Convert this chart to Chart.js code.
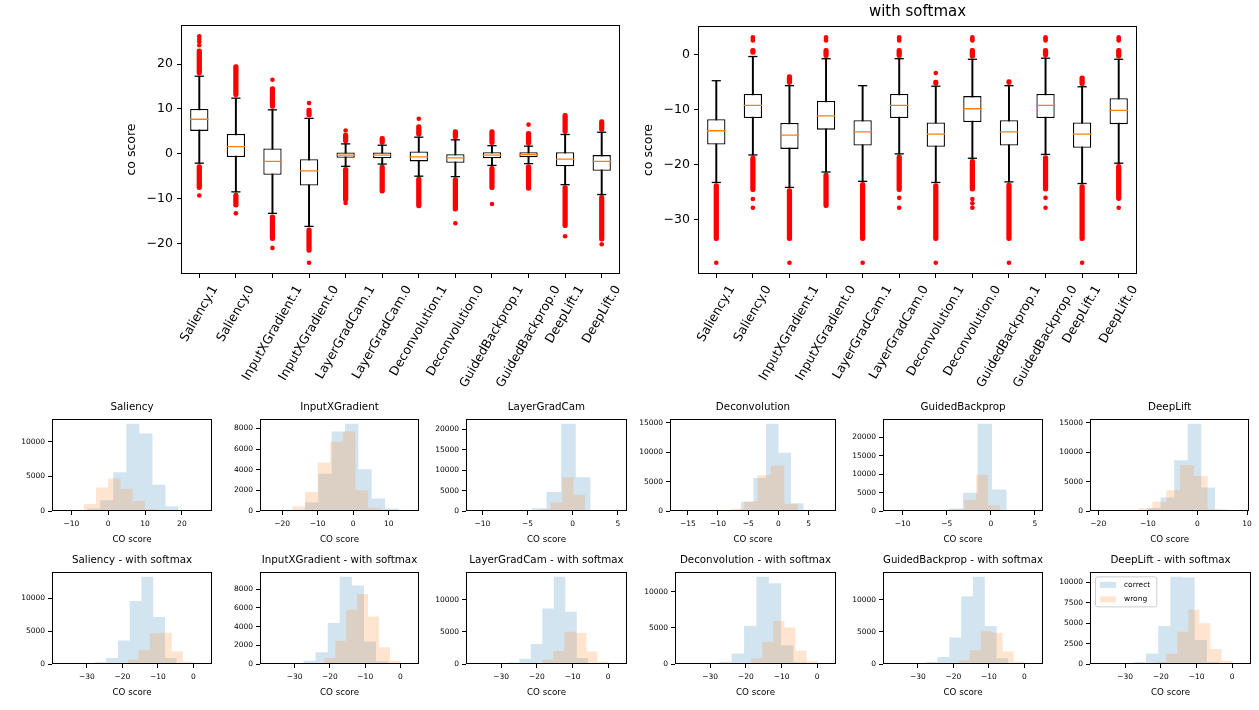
<!DOCTYPE html>
<html>
<head>
<meta charset="utf-8">
<script src="https://cdn.jsdelivr.net/npm/chart.js@4.4.0/dist/chart.umd.min.js"></script>
<style>
  body { margin: 0; background: #fff; width: 1259px; height: 710px; position: relative; overflow: hidden; }
  canvas { position: absolute; }
</style>
</head>
<body>
<script>
// ---- box plot data (CO score per method / label) ----
const boxLabels = ['Saliency.1', 'Saliency.0', 'InputXGradient.1', 'InputXGradient.0', 'LayerGradCam.1', 'LayerGradCam.0',
  'Deconvolution.1', 'Deconvolution.0', 'GuidedBackprop.1', 'GuidedBackprop.0', 'DeepLift.1', 'DeepLift.0'];

const boxQ1 = [5.1, -0.75, -4.7, -7.1, -0.9, -1.0, -1.7, -2.0, -1.0, -0.8, -2.8, -3.8];
const boxMed = [7.7, 1.6, -1.7, -3.8, -0.3, -0.3, -0.7, -0.9, -0.3, -0.2, -1.2, -1.7];
const boxQ3 = [10.0, 4.4, 1.2, -1.2, 0.3, 0.3, 0.5, 0.0, 0.35, 0.35, 0.35, -0.3];
const boxWhiskLo = [-2.1, -8.5, -13.3, -16.2, -2.8, -2.3, -5.0, -5.1, -2.6, -2.2, -6.9, -9.1];
const boxWhiskHi = [17.3, 12.4, 9.8, 7.9, 2.2, 1.9, 3.7, 3.1, 1.8, 1.7, 4.3, 4.8];
// dense runs of outliers, [from, to]
const boxOutHi = [[17.6, 23.4], [12.7, 19.9], [10.1, 15.0], [8.2, 10.2], [2.4, 4.6], [2.1, 3.9],
  [3.9, 6.5], [3.3, 5.4], [2.0, 5.4], [1.9, 5.0], [4.5, 9.0], [5.0, 7.6]];
const boxOutLo = [[-8.0, -2.4], [-11.9, -8.8], [-19.4, -13.6], [-22.0, -16.5], [-10.7, -3.0], [-8.8, -2.5],
  [-12.1, -5.2], [-12.8, -5.3], [-8.0, -2.8], [-8.2, -2.4], [-16.5, -7.1], [-19.5, -9.3]];
// single outliers, [box index, value]
const boxOutDots = [[0, 24.2], [0, 25.0], [0, 25.6], [0, 26.2], [0, -9.3], [1, -13.3], [2, 16.5], [2, -21.0],
  [3, 11.3], [3, -24.3], [4, 5.2], [4, -11.0], [6, 7.8], [7, -15.5], [8, -11.2], [9, 6.5], [10, -18.4], [11, -20.2]];
const boxYTicks = [-20, -10, 0, 10, 20];

// with softmax
const smQ1 = [-16.3, -11.5, -17.1, -13.6, -16.5, -11.5, -16.7, -12.2, -16.5, -11.5, -16.9, -12.6];
const smMed = [-13.8, -9.2, -14.6, -11.1, -14.0, -9.2, -14.4, -9.8, -14.0, -9.2, -14.4, -10.1];
const smQ3 = [-11.7, -7.1, -12.4, -8.4, -11.9, -7.1, -12.3, -7.5, -11.9, -7.1, -12.3, -7.9];
const smWhiskLo = [-23.2, -18.2, -24.1, -21.3, -23.0, -18.0, -23.2, -18.8, -23.1, -18.1, -23.4, -19.7];
const smWhiskHi = [-4.7, -0.3, -5.6, -0.7, -5.6, -0.7, -5.7, -0.8, -5.6, -0.6, -5.8, -0.8];
const smOutHi = [null, [0.0, 1.2], [-5.4, -3.6], [-0.5, 1.2], null, [-0.5, 1.2],
  [-5.5, -4.6], [-0.6, 1.2], [-5.4, -4.5], [-0.4, 1.2], [-5.6, -3.8], [-0.6, 1.2]];
const smOutLo = [[-33.8, -23.4], [-24.9, -18.4], [-33.8, -24.3], [-27.8, -21.5], [-33.8, -23.2], [-24.9, -18.2],
  [-33.8, -23.4], [-24.8, -19.0], [-33.8, -23.3], [-24.8, -18.3], [-33.8, -23.6], [-26.5, -19.9]];
const smOutDots = [[0, -37.8], [2, -37.8], [4, -37.8], [6, -37.8], [6, -3.3], [8, -37.8], [10, -37.8],
  [1, 2.6], [1, 2.9], [1, 3.2], [1, -26.2], [1, -27.8],
  [3, 2.6], [3, 2.9], [3, 3.2],
  [5, 2.6], [5, 2.9], [5, 3.2], [5, -26.0], [5, -27.8],
  [7, 2.6], [7, 2.9], [7, 3.2], [7, -26.2], [7, -27.0], [7, -27.8],
  [9, 2.6], [9, 2.9], [9, 3.2], [9, -26.0], [9, -27.8],
  [11, 2.6], [11, 2.9], [11, 3.2], [11, -27.8]];
const smYTicks = [-30, -20, -10, 0];

// ---- histograms: bin edges and counts, panels 0-5 plain, 6-11 with softmax ----
const methods = ['Saliency', 'InputXGradient', 'LayerGradCam', 'Deconvolution', 'GuidedBackprop', 'DeepLift'];
const seriesNames = ['correct', 'wrong'];
const smWrongEdges = [-27.8, -24.7, -21.6, -18.5, -15.4, -12.3, -9.2, -6.1, -3.0, 0.1, 3.2];

const correctEdges = [
  [-9.3, -5.75, -2.2, 1.35, 4.9, 8.45, 12.0, 15.55, 19.1, 22.65, 26.2],
  [-21.1, -17.34, -13.58, -9.82, -6.06, -2.3, 1.46, 5.22, 8.98, 12.74, 16.5],
  [-11.0, -9.38, -7.76, -6.14, -4.52, -2.9, -1.28, 0.34, 1.96, 3.58, 5.2],
  [-12.4, -10.33, -8.26, -6.19, -4.12, -2.05, 0.02, 2.09, 4.16, 6.23, 8.3],
  [-11.4, -9.75, -8.1, -6.45, -4.8, -3.15, -1.5, 0.15, 1.8, 3.45, 5.1],
  [-18.4, -15.66, -12.92, -10.18, -7.44, -4.7, -1.96, 0.78, 3.52, 6.26, 9.0],
  [-37.8, -34.49, -31.18, -27.87, -24.56, -21.25, -17.94, -14.63, -11.32, -8.01, -4.7],
  [-37.8, -34.37, -30.94, -27.51, -24.08, -20.65, -17.22, -13.79, -10.36, -6.93, -3.5],
  [-37.8, -34.58, -31.36, -28.14, -24.92, -21.7, -18.48, -15.26, -12.04, -8.82, -5.6],
  [-37.8, -34.34, -30.88, -27.42, -23.96, -20.5, -17.04, -13.58, -10.12, -6.66, -3.2],
  [-37.8, -34.47, -31.14, -27.81, -24.48, -21.15, -17.82, -14.49, -11.16, -7.83, -4.5],
  [-37.8, -34.39, -30.98, -27.57, -24.16, -20.75, -17.34, -13.93, -10.52, -7.11, -3.7]
];
const correctCounts = [
  [30, 350, 1550, 5600, 12600, 11200, 3800, 700, 100, 20],
  [30, 120, 850, 3600, 7700, 8450, 4050, 1200, 230, 20],
  [5, 10, 30, 100, 650, 4650, 21400, 8250, 250, 20],
  [5, 20, 100, 1550, 5600, 14850, 9900, 1300, 60, 10],
  [5, 10, 30, 100, 700, 4950, 23650, 5850, 250, 20],
  [5, 20, 100, 500, 2300, 8650, 14850, 4000, 250, 20],
  [5, 20, 100, 250, 900, 3600, 9600, 13300, 7150, 900],
  [5, 30, 100, 350, 1250, 4400, 9350, 8400, 2400, 300],
  [5, 30, 120, 250, 800, 3100, 8600, 13550, 8100, 950],
  [5, 30, 100, 300, 1450, 5300, 12100, 11200, 2600, 250],
  [5, 30, 100, 300, 1100, 4100, 10500, 13550, 5900, 900],
  [5, 20, 80, 250, 1300, 4650, 10700, 10600, 2950, 250]
];
const wrongEdges = [
  [-13.3, -9.98, -6.66, -3.34, -0.02, 3.3, 6.62, 9.94, 13.26, 16.58, 19.9],
  [-24.2, -20.65, -17.1, -13.55, -10.0, -6.45, -2.9, 0.65, 4.2, 7.75, 11.3],
  [-8.8, -7.53, -6.26, -4.99, -3.72, -2.45, -1.18, 0.09, 1.36, 2.63, 3.9],
  [-16.7, -14.49, -12.28, -10.07, -7.86, -5.65, -3.44, -1.23, 0.98, 3.19, 5.4],
  [-8.4, -7.05, -5.7, -4.35, -3.0, -1.65, -0.3, 1.05, 2.4, 3.75, 5.1],
  [-20.2, -17.42, -14.64, -11.86, -9.08, -6.3, -3.52, -0.74, 2.04, 4.82, 7.6],
  smWrongEdges, smWrongEdges, smWrongEdges, smWrongEdges, smWrongEdges, smWrongEdges
];
const wrongCounts = [
  [10, 60, 1000, 3400, 4700, 3200, 1450, 300, 40, 10],
  [20, 80, 450, 1850, 4700, 6700, 7700, 2000, 320, 40],
  [5, 20, 60, 150, 400, 2100, 8250, 4000, 200, 20],
  [5, 10, 50, 150, 400, 1650, 6100, 7700, 1200, 50],
  [5, 20, 100, 450, 2950, 9800, 1550, 100, 20, 5],
  [10, 60, 170, 450, 1580, 3550, 7800, 5950, 300, 20],
  [5, 30, 120, 650, 2100, 4650, 4750, 1900, 350, 20],
  [20, 100, 650, 2500, 5800, 7500, 5100, 1800, 350, 20],
  [5, 30, 150, 650, 2000, 5000, 4850, 1950, 350, 20],
  [5, 40, 150, 750, 3050, 5950, 5050, 1850, 400, 20],
  [5, 30, 120, 550, 2150, 5050, 4850, 1950, 350, 20],
  [10, 60, 250, 1250, 3950, 6650, 5000, 1850, 400, 20]
];
const histXTicks = [
  [-10, 0, 10, 20], [-20, -10, 0, 10], [-10, -5, 0, 5], [-15, -10, -5, 0, 5], [-10, -5, 0, 5], [-20, -10, 0, 10],
  [-30, -20, -10, 0], [-30, -20, -10, 0], [-30, -20, -10, 0], [-30, -20, -10, 0], [-30, -20, -10, 0], [-30, -20, -10, 0]
];
const histYTicks = [
  [0, 5000, 10000], [0, 2000, 4000, 6000, 8000], [0, 5000, 10000, 15000, 20000],
  [0, 5000, 10000, 15000], [0, 5000, 10000, 15000, 20000], [0, 5000, 10000, 15000],
  [0, 5000, 10000], [0, 2000, 4000, 6000, 8000], [0, 5000, 10000],
  [0, 5000, 10000], [0, 5000, 10000], [0, 2500, 5000, 7500, 10000]
];

// ---- layout ----
// axes boxes [left, top, right, bottom] in page pixels
const histAxes = [
  [52, 419, 212, 511], [260, 419, 419, 511], [466, 419, 627, 511],
  [670, 419, 836, 511], [883, 419, 1043, 511], [1090, 419, 1251, 511],
  [52, 572, 212, 664], [260, 572, 419, 664], [466, 572, 627, 664],
  [675, 572, 836, 664], [883, 572, 1043, 664], [1090, 572, 1251, 664]
];
const FONT = "'DejaVu Sans', sans-serif";
const BLUE = 'rgba(31,119,180,0.2)';
const ORANGE = 'rgba(255,127,14,0.2)';

Chart.defaults.font.family = FONT;
Chart.defaults.color = '#000';
Chart.defaults.animation = false;
Chart.defaults.events = [];
Chart.defaults.plugins.legend.display = false;
Chart.defaults.plugins.tooltip.enabled = false;

const minus = v => v < 0 ? '\u2212' + Math.abs(v) : String(v);

function makeCanvas(x, y, w, h) {
  const c = document.createElement('canvas');
  c.width = w; c.height = h;
  c.style.left = x + 'px'; c.style.top = y + 'px';
  c.style.width = w + 'px'; c.style.height = h + 'px';
  document.body.appendChild(c);
  return c;
}

// full box around the plot area, like matplotlib spines
const framePlugin = {
  id: 'frame',
  afterDraw(chart) {
    const a = chart.chartArea, ctx = chart.ctx;
    ctx.save();
    ctx.strokeStyle = '#000';
    ctx.lineWidth = 1;
    const l = Math.round(a.left), t = Math.round(a.top);
    ctx.strokeRect(l + 0.5, t + 0.5, Math.round(a.right) - l - 1, Math.round(a.bottom) - t - 1);
    ctx.restore();
  }
};

// x labels rotated 60 degrees, centred under the tick
const rotLabels = {
  id: 'rotLabels',
  afterDraw(chart) {
    const ctx = chart.ctx, xs = chart.scales.x, base = chart.chartArea.bottom;
    const size = 12.5, ang = Math.PI / 3;
    ctx.save();
    ctx.font = size + 'px ' + FONT;
    ctx.fillStyle = '#000';
    ctx.textAlign = 'center';
    ctx.textBaseline = 'middle';
    chart.data.labels.forEach((lab, i) => {
      const L = ctx.measureText(lab).width;
      const bh = L * Math.sin(ang) + size * 1.17 * Math.cos(ang);
      ctx.save();
      ctx.translate(xs.getPixelForTick(i), base + 9 + bh / 2);
      ctx.rotate(-ang);
      ctx.fillText(lab, 0, 0);
      ctx.restore();
    });
    ctx.restore();
  }
};

const legendBox = {
  id: 'legendBox',
  afterDraw(chart) {
    const ctx = chart.ctx, a = chart.chartArea;
    const fs = 7.5;
    ctx.save();
    ctx.font = fs + 'px ' + FONT;
    const tw = Math.max(...seriesNames.map(s => ctx.measureText(s).width));
    const x = a.left + 5, y = a.top + 4, w = 5 + 16 + 8 + tw + 6, h = 30;
    ctx.beginPath();
    ctx.roundRect(x + 0.5, y + 0.5, w, h, 2);
    ctx.fillStyle = 'rgba(255,255,255,0.8)';
    ctx.fill();
    ctx.strokeStyle = '#cccccc';
    ctx.lineWidth = 1;
    ctx.stroke();
    [BLUE, ORANGE].forEach((col, i) => {
      const cy = y + 8.5 + i * 14.5;
      ctx.fillStyle = col;
      ctx.fillRect(x + 5, cy - 3, 16, 6);
      ctx.fillStyle = '#000';
      ctx.textBaseline = 'middle';
      ctx.fillText(seriesNames[i], x + 29, cy);
    });
    ctx.restore();
  }
};

function boxChart(canvas, s, yTicks, title) {
  const pairs = (a, b) => a.map((v, i) => [v, b[i]]);
  const all = [...s.lo, ...s.hi, ...s.dots.map(d => d[1])];
  s.outHi.concat(s.outLo).forEach(r => { if (r) all.push(r[0], r[1]); });
  const lo = Math.min(...all), hi = Math.max(...all), m = 0.05 * (hi - lo);
  const capLine = data => ({
    type: 'line', data, showLine: false, pointStyle: 'line',
    pointRadius: 4.6, pointBorderColor: '#000', pointBorderWidth: 1.3
  });

  new Chart(canvas, {
    type: 'bar',
    data: {
      labels: boxLabels,
      datasets: [
        { type: 'line', data: s.med, showLine: false, pointStyle: 'line',
          pointRadius: 9.2, pointBorderColor: '#ff7f0e', pointBorderWidth: 1.3 },
        capLine(s.lo),
        capLine(s.hi),
        { data: pairs(s.q1, s.q3), backgroundColor: '#fff', borderColor: '#000', borderWidth: 1.3,
          borderSkipped: false, grouped: false, barPercentage: 0.5, categoryPercentage: 1 },
        { data: pairs(s.lo, s.hi), backgroundColor: '#000', barThickness: 1.3, grouped: false },
        { data: s.outHi, backgroundColor: '#ff0000', barThickness: 4.6, borderRadius: 2.3,
          borderSkipped: false, grouped: false },
        { data: s.outLo, backgroundColor: '#ff0000', barThickness: 4.6, borderRadius: 2.3,
          borderSkipped: false, grouped: false },
        { type: 'line', data: s.dots.map(d => ({ x: boxLabels[d[0]], y: d[1] })), showLine: false,
          pointRadius: 2.3, pointBackgroundColor: '#ff0000', pointBorderColor: '#ff0000', pointBorderWidth: 0 }
      ]
    },
    options: {
      responsive: false,
      layout: { padding: { top: title ? 0 : 25, right: 20 } },
      plugins: {
        title: { display: !!title, text: title, fullSize: false, font: { size: 15, weight: 'normal' },
          padding: { top: 3, bottom: 5 } }
      },
      scales: {
        x: {
          border: { display: false },
          grid: { offset: false, drawOnChartArea: false, tickLength: 4, color: '#000' },
          ticks: { display: false },
          afterFit: sc => { sc.height = 126; }
        },
        y: {
          min: lo - m, max: hi + m,
          border: { display: false },
          grid: { drawOnChartArea: false, tickLength: 4, color: '#000' },
          ticks: { font: { size: 12.5 }, padding: 4, callback: v => minus(v) },
          afterBuildTicks: sc => { sc.ticks = yTicks.map(v => ({ value: v })); },
          title: { display: true, text: 'co score', font: { size: 12.5 }, padding: { top: 24.5, bottom: 0 } },
          afterFit: sc => { sc.width = 81; }
        }
      }
    },
    plugins: [framePlugin, rotLabels]
  });
}

boxChart(makeCanvas(100, 0, 540, 400), {
  q1: boxQ1, med: boxMed, q3: boxQ3, lo: boxWhiskLo, hi: boxWhiskHi,
  outHi: boxOutHi, outLo: boxOutLo, dots: boxOutDots
}, boxYTicks, '');

boxChart(makeCanvas(617, 0, 540, 400), {
  q1: smQ1, med: smMed, q3: smQ3, lo: smWhiskLo, hi: smWhiskHi,
  outHi: smOutHi, outLo: smOutLo, dots: smOutDots
}, smYTicks, 'with softmax');

// step outline of a histogram: each bin holds its count until the next edge
const toSteps = (edges, counts) => edges.map((e, i) => ({ x: e, y: i < counts.length ? counts[i] : 0 }));

histAxes.forEach((box, p) => {
  const [L, T, R, B] = box;
  const canvas = makeCanvas(L - 44, T - 20, (R - L) + 50, (B - T) + 56);
  const ce = correctEdges[p], we = wrongEdges[p];
  const lo = Math.min(ce[0], we[0]), hi = Math.max(ce[ce.length - 1], we[we.length - 1]);
  const m = 0.05 * (hi - lo);
  const ymax = 1.05 * Math.max(...correctCounts[p], ...wrongCounts[p]);
  const title = p < 6 ? methods[p] : methods[p - 6] + ' - with softmax';

  new Chart(canvas, {
    type: 'line',
    data: {
      datasets: [
        { label: seriesNames[0], data: toSteps(ce, correctCounts[p]), stepped: true, fill: 'origin',
          backgroundColor: BLUE, borderColor: 'rgba(0,0,0,0)', borderWidth: 0, pointRadius: 0, order: 1 },
        { label: seriesNames[1], data: toSteps(we, wrongCounts[p]), stepped: true, fill: 'origin',
          backgroundColor: ORANGE, borderColor: 'rgba(0,0,0,0)', borderWidth: 0, pointRadius: 0, order: 0 }
      ]
    },
    options: {
      responsive: false,
      layout: { padding: { right: 6 } },
      plugins: {
        title: { display: true, text: title, fullSize: false, font: { size: 10.3, weight: 'normal' },
          padding: { top: 2, bottom: 6 } }
      },
      scales: {
        x: {
          type: 'linear', min: lo - m, max: hi + m,
          border: { display: false },
          grid: { drawOnChartArea: false, tickLength: 4, color: '#000' },
          ticks: { font: { size: 7.5 }, padding: 5, autoSkip: false, maxRotation: 0, callback: v => minus(v) },
          afterBuildTicks: sc => { sc.ticks = histXTicks[p].map(v => ({ value: v })); },
          title: { display: true, text: 'CO score', font: { size: 8.7 }, padding: { top: 0, bottom: 2 } },
          afterFit: sc => { sc.height = 36; }
        },
        y: {
          min: 0, max: ymax,
          border: { display: false },
          grid: { drawOnChartArea: false, tickLength: 4, color: '#000' },
          ticks: { font: { size: 7.5 }, padding: 3, autoSkip: false, callback: v => String(v) },
          afterBuildTicks: sc => { sc.ticks = histYTicks[p].map(v => ({ value: v })); },
          afterFit: sc => { sc.width = 44; }
        }
      }
    },
    plugins: p === 11 ? [framePlugin, legendBox] : [framePlugin]
  });
});
</script>
</body>
</html>
